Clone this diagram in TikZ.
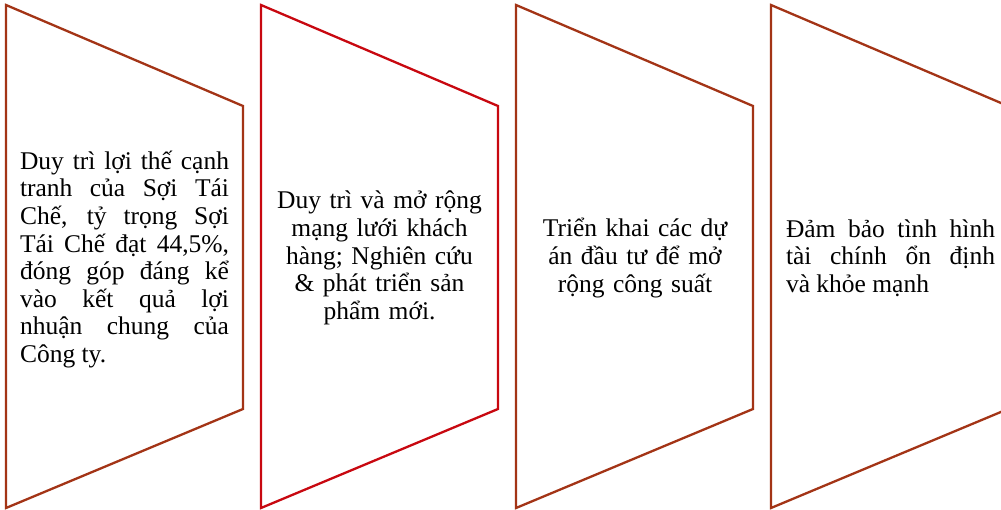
\documentclass[tikz,border=0pt]{standalone}
\usepackage{fontspec}
\setmainfont{Liberation Serif}
\definecolor{brownline}{RGB}{163,52,22}
\definecolor{redline}{RGB}{200,8,16}
\tikzset{
  panel/.style={line width=2.3pt, line join=miter, fill=white},
  paneltext/.style={font=\fontsize{25.5}{27.6}\selectfont, inner sep=0pt, text width=209pt},
}
\begin{document}
\begin{tikzpicture}[x=1pt,y=-1pt]
\useasboundingbox (0,0) rectangle (1001,510);
\fill[white] (0,0) rectangle (1001,510);
\begin{scope}
\clip (0,0) rectangle (1001,510);
\draw[panel, draw=brownline] (6,5) -- (243,106) -- (243,409) -- (6,508) -- cycle;
\draw[panel, draw=redline] (261,5) -- (498,106) -- (498,409) -- (261,508) -- cycle;
\draw[panel, draw=brownline] (516,5) -- (753,106) -- (753,409) -- (516,508) -- cycle;
\draw[panel, draw=brownline] (771,5) -- (1008,106) -- (1008,409) -- (771,508) -- cycle;
\end{scope}
\node[paneltext, align=justify] (t1) at (124.5,259.5) {Duy trì lợi thế cạnh\linebreak tranh của Sợi Tái\linebreak Chế, tỷ trọng Sợi\linebreak Tái Chế đạt 44,5\%,\linebreak đóng góp đáng kể\linebreak vào kết quả lợi\linebreak nhuận chung của\linebreak Công ty.};
\node[paneltext, align=center] (t2) at (379.5,258) {Duy trì và mở rộng\\ mạng lưới khách\\ hàng; Nghiên cứu\\ \& phát triển sản\\ phẩm mới.};
\node[paneltext, align=center] (t3) at (635,258) {Triển khai các dự\\ án đầu tư để mở\\ rộng công suất};
\node[paneltext, align=justify] (t4) at (890.5,258) {Đảm bảo tình hình\linebreak tài chính ổn định\linebreak và khỏe mạnh};
\end{tikzpicture}
\end{document}
